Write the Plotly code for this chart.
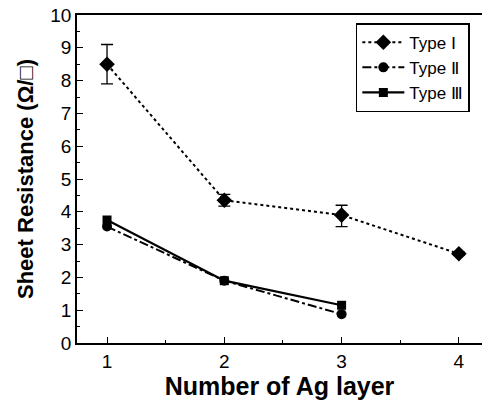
import plotly.graph_objects as go

layers = [1, 2, 3, 4]
type1 = [8.5, 4.35, 3.9, 2.72]
type1_err_plus = [0.6, 0.18, 0.3, 0.05]
type1_err_minus = [0.6, 0.18, 0.35, 0.05]
layers23 = [1, 2, 3]
type2 = [3.55, 1.9, 0.88]
type3 = [3.75, 1.9, 1.15]

roman = '<span style="font-family:Liberation Serif">%s</span>'
names = ["Type " + roman % "Ⅰ", "Type " + roman % "Ⅱ", "Type " + roman % "Ⅲ"]

fig = go.Figure()
fig.add_trace(go.Scatter(
    x=layers, y=type1, name=names[0], mode="lines+markers",
    line=dict(color="black", width=2, dash="dot"),
    marker=dict(symbol="diamond", size=12, color="black"),
    error_y=dict(type="data", array=type1_err_plus, arrayminus=type1_err_minus,
                 color="black", thickness=1.3, width=6),
))
fig.add_trace(go.Scatter(
    x=layers23, y=type2, name=names[1], mode="lines+markers",
    line=dict(color="black", width=2, dash="dashdot"),
    marker=dict(symbol="circle", size=10, color="black"),
))
fig.add_trace(go.Scatter(
    x=layers23, y=type3, name=names[2], mode="lines+markers",
    line=dict(color="black", width=2.2),
    marker=dict(symbol="square", size=9, color="black"),
))

font_family = "Liberation Sans, Arial"
axis_common = dict(
    showgrid=False, zeroline=False, showline=True, linecolor="black", linewidth=1.8,
    ticks="inside", ticklen=6, tickcolor="black", tickwidth=1.2, automargin=False,
    tickfont=dict(family=font_family, size=19, color="black"),
)
fig.update_layout(
    width=482, height=401,
    margin=dict(l=77, r=0, t=15, b=58),
    paper_bgcolor="white", plot_bgcolor="white",
    xaxis=dict(range=[0.744, 4.197], tickvals=[1, 2, 3, 4], mirror=True,
               minor=dict(dtick=0.5, ticks="inside", ticklen=3, tickcolor="black"),
               title=dict(text="<b>Number of Ag layer</b>", standoff=2,
                          font=dict(family=font_family, size=25, color="black")),
               **axis_common),
    yaxis=dict(range=[0, 10], dtick=1, mirror=False,
               minor=dict(dtick=0.5, ticks="inside", ticklen=3, tickcolor="black"),
               title=dict(text="<b>Sheet Resistance (Ω/□)</b>", standoff=10,
                          font=dict(family=font_family, size=22, color="black")),
               **axis_common),
    legend=dict(x=0.97, y=0.975, xanchor="right", yanchor="top",
                bordercolor="black", borderwidth=1.5, bgcolor="white",
                font=dict(family=font_family, size=17, color="black"),
                itemwidth=42, tracegroupgap=0),
    showlegend=True,
)
fig.write_html("out.html", config={"displayModeBar": False},
               post_script="document.body.style.margin='0';")
